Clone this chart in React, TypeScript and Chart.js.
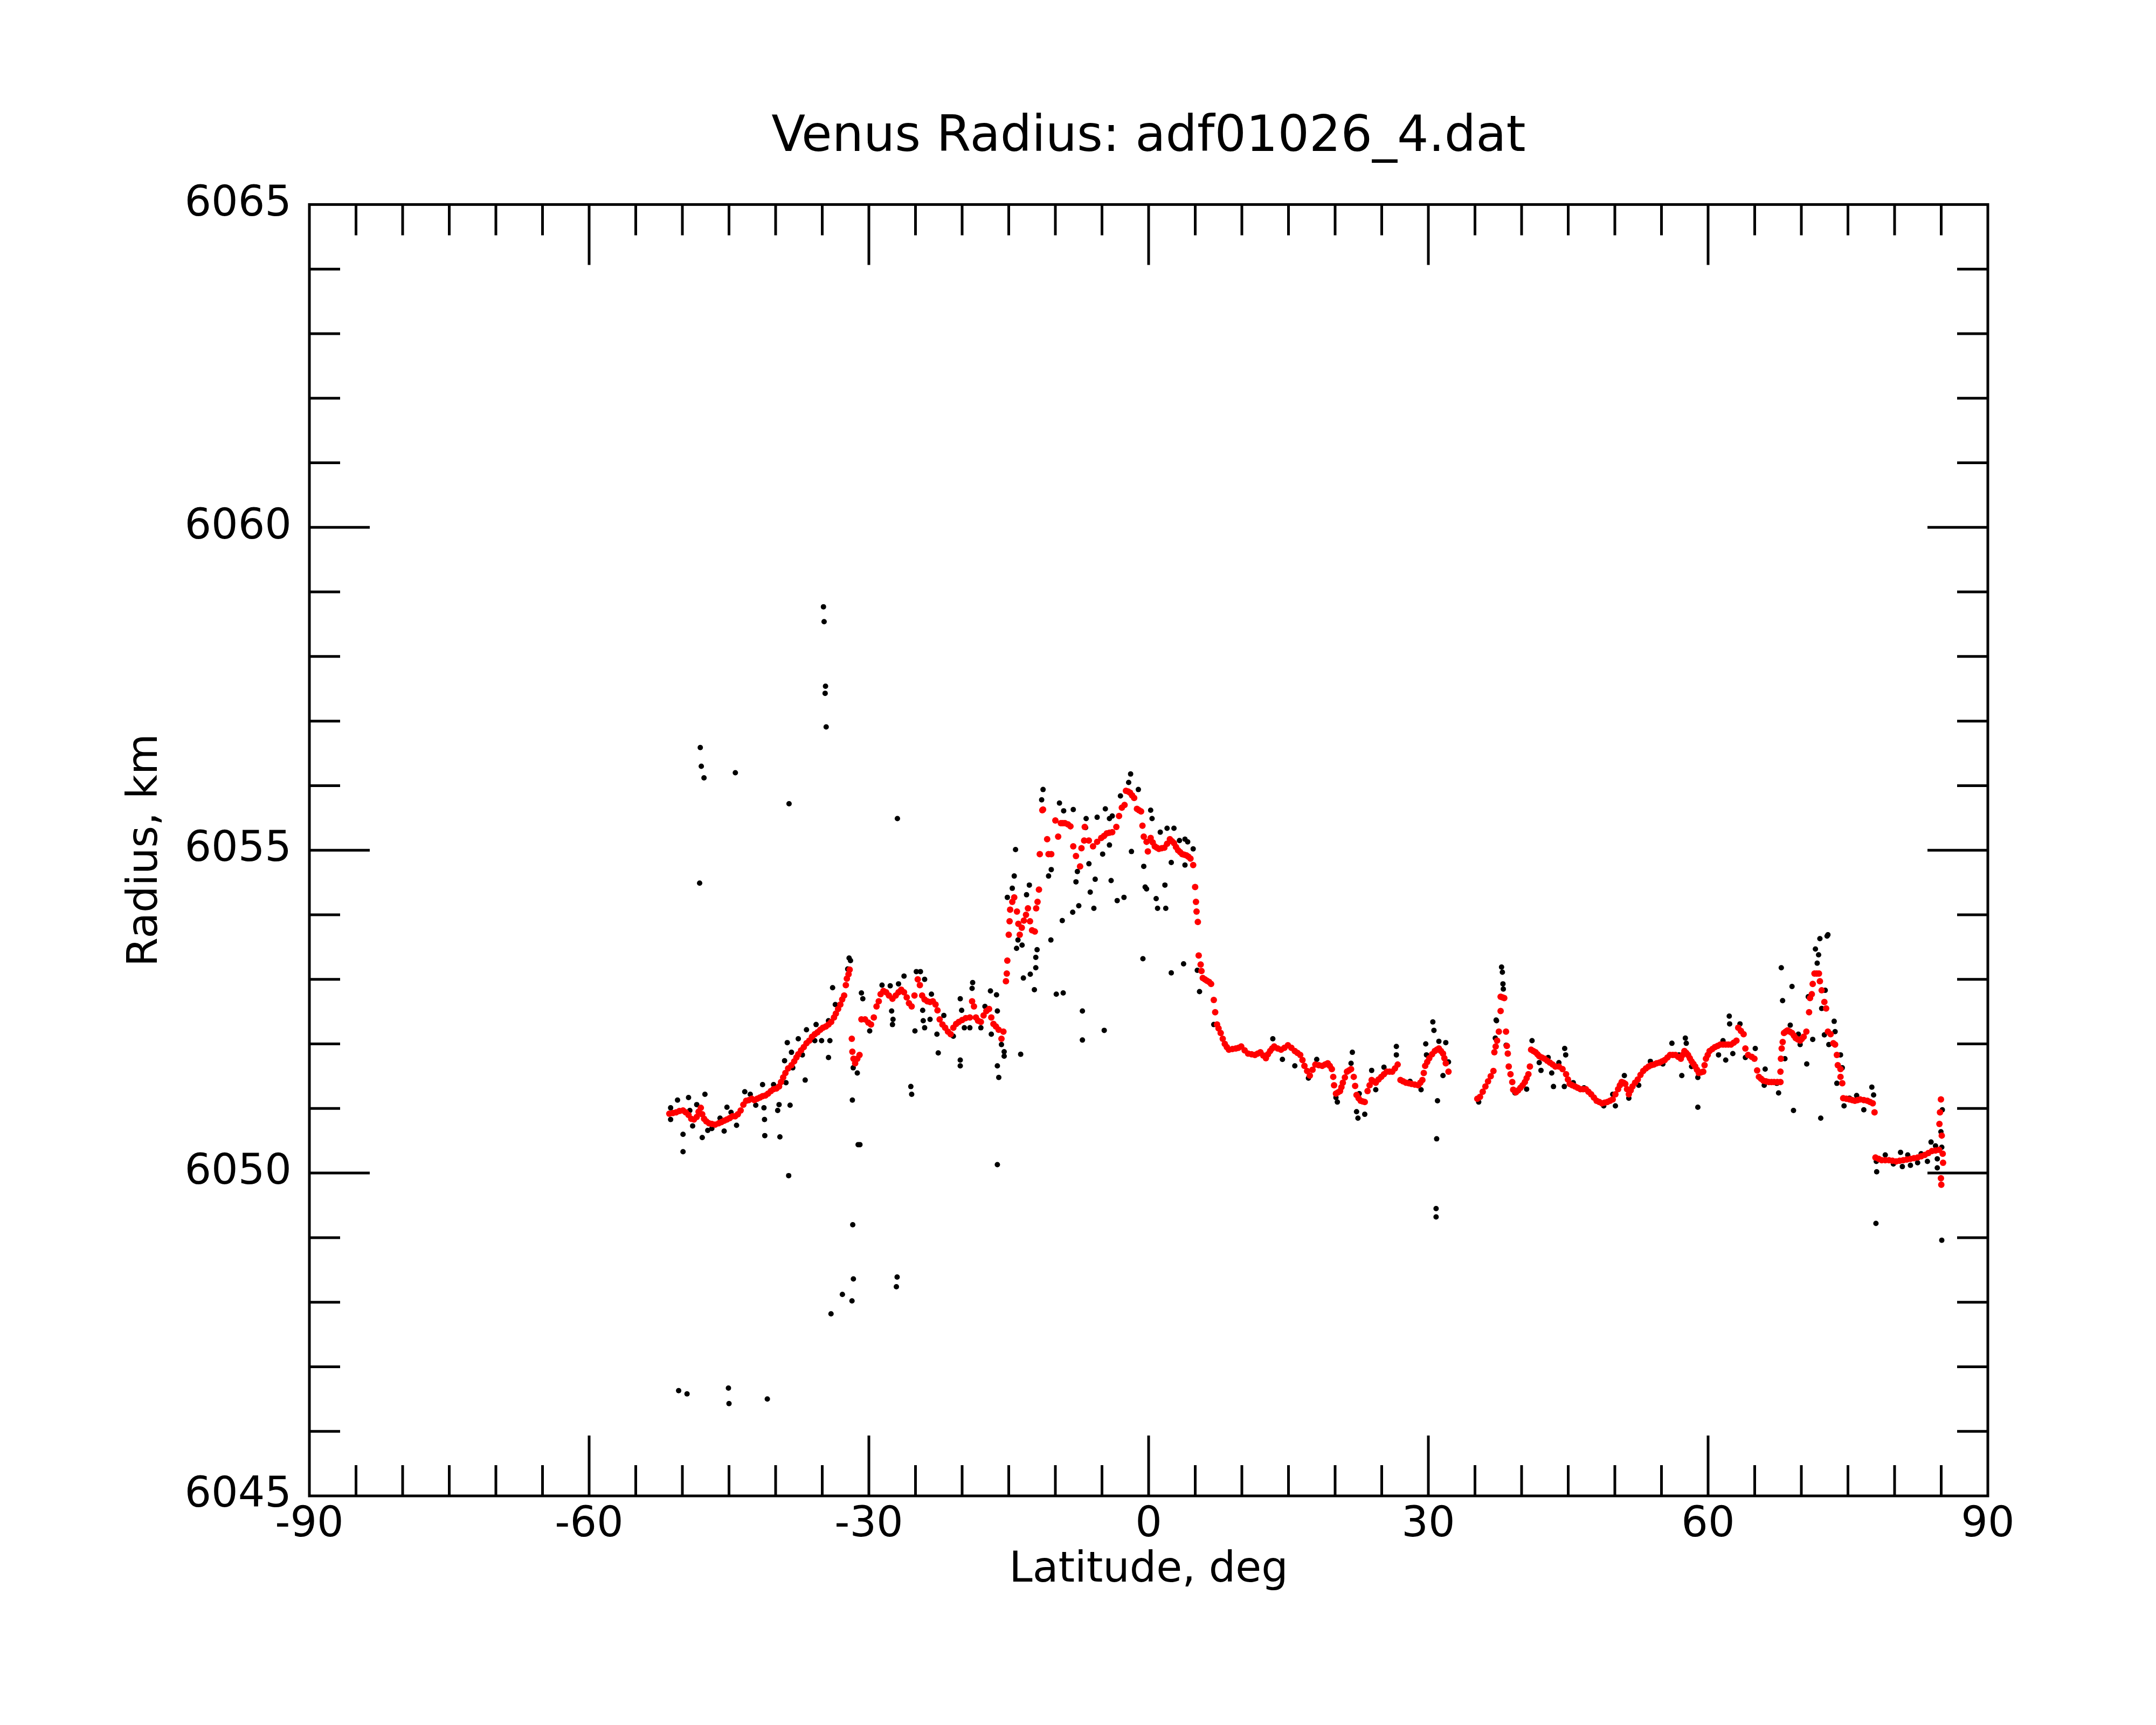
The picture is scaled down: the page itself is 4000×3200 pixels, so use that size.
import React, { useEffect, useRef } from "react";
import { Chart, registerables } from "chart.js";

Chart.register(...registerables);

// axis ranges and tick spacing
const LAT_MIN = -90;
const LAT_MAX = 90;
const LAT_MAJOR = 30;
const LAT_MINOR = 5;
const KM_MIN = 6045;
const KM_MAX = 6065;
const KM_MAJOR = 5;
const KM_MINOR = 1;

// smoothed radius (red), [latitude deg, radius km]
const fitSouth: [number, number][] = [
  [-51.4, 6050.92], [-51.02, 6050.93], [-50.67, 6050.94], [-50.32, 6050.96], [-49.93, 6050.97],
  [-49.64, 6050.94], [-49.34, 6050.9], [-49.05, 6050.84], [-48.76, 6050.83], [-48.46, 6050.87],
  [-48.26, 6050.95], [-48.02, 6051.01], [-47.87, 6050.91], [-47.67, 6050.84], [-47.43, 6050.8],
  [-47.14, 6050.77], [-46.84, 6050.76], [-46.49, 6050.75], [-46.11, 6050.77], [-45.81, 6050.79],
  [-45.52, 6050.81], [-45.22, 6050.83], [-44.93, 6050.85], [-44.63, 6050.88], [-44.34, 6050.88],
  [-44.05, 6050.91], [-43.75, 6050.97], [-43.46, 6051.06], [-43.16, 6051.12], [-42.87, 6051.13],
  [-42.57, 6051.15], [-42.28, 6051.13], [-41.98, 6051.15], [-41.69, 6051.17], [-41.4, 6051.19],
  [-41.1, 6051.2], [-40.81, 6051.23], [-40.51, 6051.27], [-40.22, 6051.3], [-39.92, 6051.31],
  [-39.63, 6051.34], [-39.42, 6051.41], [-39.19, 6051.48], [-38.95, 6051.55], [-38.66, 6051.62],
  [-38.3, 6051.67], [-38.01, 6051.73], [-37.77, 6051.79], [-37.57, 6051.84], [-37.27, 6051.9],
  [-36.98, 6051.95], [-36.69, 6052.01], [-36.39, 6052.05], [-36.1, 6052.11], [-35.8, 6052.15],
  [-35.51, 6052.18], [-35.21, 6052.22], [-34.92, 6052.25], [-34.62, 6052.27], [-34.33, 6052.3],
  [-34.04, 6052.34], [-33.74, 6052.41], [-33.54, 6052.47], [-33.3, 6052.54], [-33.06, 6052.61],
  [-32.86, 6052.69], [-32.65, 6052.75], [-32.47, 6052.91], [-32.36, 6053.01], [-32.18, 6053.08],
  [-32.06, 6053.15], [-31.83, 6052.08], [-31.77, 6051.88], [-31.65, 6051.77], [-31.47, 6051.7],
  [-31.24, 6051.77], [-31.0, 6051.83], [-30.8, 6052.38], [-30.41, 6052.38], [-30.06, 6052.33],
  [-29.77, 6052.3], [-29.47, 6052.41], [-29.18, 6052.58], [-28.94, 6052.66], [-28.74, 6052.77],
  [-28.44, 6052.82], [-28.15, 6052.8], [-27.85, 6052.75], [-27.47, 6052.7], [-27.12, 6052.75],
  [-26.82, 6052.8], [-26.53, 6052.84], [-26.23, 6052.8], [-25.94, 6052.72], [-25.7, 6052.63],
  [-25.41, 6052.58], [-25.11, 6052.75], [-24.76, 6053.0], [-24.53, 6052.91], [-24.29, 6052.75],
  [-24.03, 6052.69], [-23.73, 6052.66], [-23.44, 6052.65], [-23.14, 6052.66], [-22.85, 6052.61],
  [-22.64, 6052.52], [-22.41, 6052.38], [-22.11, 6052.3], [-21.82, 6052.25], [-21.52, 6052.19],
  [-21.23, 6052.15], [-20.94, 6052.25], [-20.64, 6052.31], [-20.35, 6052.34], [-20.0, 6052.37],
  [-19.61, 6052.4], [-19.17, 6052.41], [-18.93, 6052.66], [-18.73, 6052.58], [-18.52, 6052.41],
  [-18.29, 6052.36], [-17.99, 6052.34], [-17.7, 6052.44], [-17.4, 6052.51], [-17.11, 6052.54],
  [-16.87, 6052.41], [-16.64, 6052.31], [-16.37, 6052.27], [-16.08, 6052.22], [-15.78, 6052.08],
  [-15.57, 6052.19],
];

const fitEquator: [number, number][] = [
  [-15.3, 6052.97], [-15.21, 6053.09], [-15.15, 6053.29], [-15.0, 6053.69], [-14.91, 6053.9],
  [-14.85, 6054.08], [-14.62, 6054.2], [-14.41, 6054.27], [-14.12, 6054.05], [-13.97, 6053.86],
  [-13.82, 6053.69], [-13.6, 6053.8], [-13.38, 6053.91], [-13.15, 6054.0], [-12.94, 6054.1],
  [-12.72, 6053.9], [-12.5, 6053.76], [-12.2, 6053.74], [-12.06, 6054.1], [-11.91, 6054.2],
  [-11.76, 6054.39], [-11.67, 6054.94], [-11.4, 6055.62], [-11.32, 6055.63], [-10.88, 6055.17],
  [-10.73, 6054.94], [-10.44, 6054.94], [-10.0, 6055.46], [-9.7, 6055.21], [-9.41, 6055.42],
  [-9.2, 6055.42], [-8.97, 6055.42], [-8.65, 6055.4], [-8.38, 6055.37], [-8.08, 6055.06],
  [-7.79, 6054.91], [-7.35, 6054.75], [-7.2, 6055.03], [-6.91, 6055.15], [-6.85, 6055.36],
  [-6.41, 6055.15], [-5.96, 6055.06], [-5.52, 6055.13], [-5.08, 6055.19], [-4.78, 6055.22],
  [-4.49, 6055.26], [-4.2, 6055.27], [-3.9, 6055.28], [-3.46, 6055.36], [-3.17, 6055.53],
  [-2.87, 6055.66], [-2.58, 6055.7], [-2.43, 6055.92], [-2.2, 6055.91], [-1.99, 6055.89],
  [-1.77, 6055.85], [-1.55, 6055.81], [-1.25, 6055.64], [-1.03, 6055.62], [-0.81, 6055.6],
  [-0.66, 6055.38], [-0.52, 6055.21], [-0.22, 6055.13], [-0.08, 6054.98], [0.22, 6055.19],
  [0.44, 6055.12], [0.66, 6055.06], [0.88, 6055.04], [1.1, 6055.02], [1.4, 6055.03],
  [1.69, 6055.04], [1.98, 6055.1], [2.28, 6055.17], [2.5, 6055.14], [2.72, 6055.11],
  [2.94, 6055.05], [3.16, 6055.0], [3.38, 6054.97], [3.6, 6054.94], [3.82, 6054.93],
  [4.05, 6054.92], [4.27, 6054.9], [4.49, 6054.87], [4.78, 6054.77], [4.99, 6054.43],
  [5.08, 6054.2], [5.14, 6054.05], [5.28, 6053.89], [5.37, 6053.37], [5.58, 6053.23],
  [5.67, 6053.13], [5.81, 6053.02], [6.03, 6053.0], [6.25, 6052.98], [6.48, 6052.96],
  [6.7, 6052.93], [6.99, 6052.68], [7.14, 6052.49], [7.34, 6052.3], [7.5, 6052.24],
  [7.73, 6052.17], [7.95, 6052.08], [8.17, 6052.0], [8.39, 6051.95], [8.61, 6051.91],
  [8.98, 6051.92], [9.35, 6051.93], [9.64, 6051.94], [9.93, 6051.96], [10.3, 6051.9],
  [10.67, 6051.85], [11.04, 6051.84], [11.4, 6051.83], [11.7, 6051.85], [11.99, 6051.87],
  [12.29, 6051.82], [12.58, 6051.78], [12.8, 6051.84], [13.03, 6051.89], [13.25, 6051.93],
  [13.47, 6051.96], [13.84, 6051.93], [14.2, 6051.91], [14.57, 6051.94], [14.94, 6051.98],
  [15.31, 6051.94], [15.68, 6051.89], [15.97, 6051.86], [16.26, 6051.83], [16.5, 6051.75],
  [16.71, 6051.66], [17.0, 6051.58], [17.29, 6051.51], [17.58, 6051.6], [17.88, 6051.68],
  [18.25, 6051.67], [18.62, 6051.66], [18.92, 6051.68], [19.21, 6051.7], [19.43, 6051.66],
  [19.65, 6051.61], [19.8, 6051.49], [19.89, 6051.36], [20.09, 6051.23], [20.31, 6051.25],
  [20.53, 6051.27], [20.68, 6051.33], [20.83, 6051.4], [21.05, 6051.48], [21.27, 6051.57],
  [21.49, 6051.59], [21.71, 6051.61], [22.0, 6051.49], [22.15, 6051.35], [22.3, 6051.21],
  [22.52, 6051.16], [22.74, 6051.12], [22.96, 6051.11], [23.18, 6051.1], [23.48, 6051.27],
  [23.7, 6051.36], [23.92, 6051.44], [24.14, 6051.42], [24.36, 6051.4], [24.66, 6051.45],
  [24.95, 6051.49], [25.24, 6051.53], [25.54, 6051.57], [25.84, 6051.57], [26.13, 6051.57],
  [26.42, 6051.62], [26.71, 6051.68], [27.01, 6051.44], [27.3, 6051.42], [27.6, 6051.4],
  [27.9, 6051.39], [28.19, 6051.38], [28.55, 6051.37], [28.92, 6051.36], [29.14, 6051.4],
  [29.36, 6051.44], [29.51, 6051.55], [29.66, 6051.66], [29.88, 6051.72], [30.1, 6051.78],
  [30.4, 6051.84], [30.69, 6051.89], [30.91, 6051.91], [31.13, 6051.93], [31.35, 6051.89],
  [31.57, 6051.85], [31.72, 6051.78], [31.87, 6051.7], [32.16, 6051.57],
];

const fitNorth: [number, number][] = [
  [35.25, 6051.15], [35.54, 6051.18], [35.83, 6051.26], [36.12, 6051.34], [36.4, 6051.42],
  [36.69, 6051.5], [36.98, 6051.58], [37.08, 6051.87], [37.22, 6051.96], [37.37, 6052.05],
  [37.56, 6052.19], [37.75, 6052.51], [37.75, 6052.73], [37.95, 6052.72], [38.14, 6052.71],
  [38.33, 6052.19], [38.42, 6051.97], [38.52, 6051.85], [38.62, 6051.65], [38.81, 6051.53],
  [39.0, 6051.41], [39.1, 6051.29], [39.39, 6051.25], [39.63, 6051.28], [39.87, 6051.32],
  [40.11, 6051.36], [40.35, 6051.41], [40.54, 6051.47], [40.73, 6051.53], [40.89, 6051.65],
  [41.02, 6051.91], [41.26, 6051.89], [41.5, 6051.87], [41.7, 6051.84], [41.89, 6051.81],
  [42.17, 6051.79], [42.46, 6051.77], [42.75, 6051.74], [43.04, 6051.71], [43.33, 6051.68],
  [43.62, 6051.65], [44.0, 6051.65], [44.39, 6051.61], [44.77, 6051.53], [44.97, 6051.45],
  [45.16, 6051.38], [45.44, 6051.36], [45.73, 6051.34], [46.02, 6051.32], [46.31, 6051.3],
  [46.6, 6051.3], [46.89, 6051.3], [47.17, 6051.26], [47.46, 6051.22], [47.75, 6051.17],
  [48.04, 6051.12], [48.33, 6051.1], [48.62, 6051.08], [48.9, 6051.09], [49.19, 6051.1],
  [49.48, 6051.12], [49.77, 6051.14], [50.06, 6051.22], [50.35, 6051.3], [50.54, 6051.36],
  [50.73, 6051.41], [50.93, 6051.4], [51.12, 6051.38], [51.31, 6051.3], [51.5, 6051.22],
  [51.7, 6051.28], [51.89, 6051.34], [52.17, 6051.4], [52.46, 6051.45], [52.75, 6051.52],
  [53.04, 6051.58], [53.33, 6051.62], [53.62, 6051.65], [53.9, 6051.67], [54.19, 6051.68],
  [54.48, 6051.7], [54.77, 6051.71], [55.06, 6051.73], [55.35, 6051.75], [55.64, 6051.79],
  [55.92, 6051.83], [56.21, 6051.83], [56.5, 6051.83], [56.79, 6051.8], [57.08, 6051.77],
  [57.27, 6051.83], [57.46, 6051.89], [57.66, 6051.86], [57.85, 6051.83], [58.04, 6051.78],
  [58.23, 6051.73], [58.43, 6051.69], [58.62, 6051.65], [58.81, 6051.6], [59.0, 6051.55],
  [59.24, 6051.56], [59.48, 6051.57], [59.62, 6051.67], [59.77, 6051.77], [59.96, 6051.83],
  [60.16, 6051.89], [60.45, 6051.92], [60.73, 6051.95], [61.02, 6051.97], [61.31, 6051.99],
  [61.6, 6051.99], [61.89, 6051.99], [62.17, 6051.99], [62.46, 6051.99], [62.75, 6052.02],
  [63.04, 6052.05], [63.23, 6052.25], [63.52, 6052.2], [63.81, 6052.15], [64.0, 6051.93],
  [64.29, 6051.83], [64.68, 6051.8], [64.97, 6051.77], [65.26, 6051.59], [65.45, 6051.49],
  [65.69, 6051.46], [65.93, 6051.43], [66.22, 6051.42], [66.51, 6051.41], [66.8, 6051.41],
  [67.08, 6051.41], [67.42, 6051.41], [67.76, 6051.41], [67.76, 6051.57], [67.81, 6051.77],
  [67.89, 6051.93], [68.0, 6052.03], [68.14, 6052.17], [68.33, 6052.19], [68.52, 6052.21],
  [68.76, 6052.19], [69.0, 6052.17], [69.2, 6052.13], [69.39, 6052.09], [69.63, 6052.07],
  [69.87, 6052.05], [70.06, 6052.08], [70.25, 6052.11], [70.54, 6052.19], [70.83, 6052.49],
  [70.93, 6052.71], [71.12, 6052.77], [71.22, 6052.93], [71.41, 6053.09], [71.65, 6053.09],
  [71.89, 6053.09], [71.99, 6052.97], [72.18, 6052.83], [72.47, 6052.65], [72.66, 6052.55],
  [72.85, 6052.19], [73.14, 6052.15], [73.43, 6052.01], [73.62, 6051.99], [73.81, 6051.83],
  [73.91, 6051.67], [74.2, 6051.61], [74.2, 6051.49], [74.39, 6051.39], [74.49, 6051.16],
  [74.83, 6051.15], [75.16, 6051.14], [75.45, 6051.13], [75.74, 6051.12], [76.03, 6051.13],
  [76.31, 6051.14], [76.7, 6051.13], [77.08, 6051.12], [77.37, 6051.1], [77.66, 6051.08],
  [77.85, 6050.94], [77.95, 6050.24], [78.29, 6050.22], [78.62, 6050.2], [79.0, 6050.2],
  [79.39, 6050.2], [79.77, 6050.19], [80.16, 6050.18], [80.54, 6050.19], [80.93, 6050.2],
  [81.31, 6050.21], [81.7, 6050.22], [82.08, 6050.23], [82.47, 6050.24], [82.85, 6050.26],
  [83.24, 6050.28], [83.62, 6050.31], [84.0, 6050.34], [84.39, 6050.35], [84.77, 6050.36],
  [85.16, 6050.3], [85.2, 6050.16], [84.97, 6049.92], [85.01, 6049.82], [84.97, 6051.14],
  [84.87, 6050.94], [84.81, 6050.76], [85.06, 6050.58],
];

// individual radius measurements (black), [latitude deg, radius km]
const obsSouth: [number, number][] = [
  [-51.26, 6051.01], [-51.26, 6050.83], [-50.52, 6051.13], [-49.93, 6050.6], [-49.93, 6050.33],
  [-49.34, 6051.17], [-49.2, 6050.97], [-48.9, 6050.73], [-48.46, 6051.06], [-47.87, 6050.55],
  [-47.58, 6051.22], [-47.28, 6050.66], [-46.84, 6050.69], [-45.96, 6050.85], [-45.52, 6050.65],
  [-45.22, 6051.02], [-44.78, 6050.94], [-44.19, 6050.74], [-43.31, 6051.26], [-42.72, 6051.22],
  [-42.13, 6051.05], [-41.4, 6051.37], [-41.25, 6051.01], [-41.19, 6050.83], [-41.16, 6050.58],
  [-40.22, 6051.37], [-39.78, 6050.97], [-39.54, 6050.56], [-39.63, 6051.06], [-39.04, 6051.74],
  [-38.89, 6051.4], [-38.75, 6052.02], [-38.6, 6049.96], [-38.45, 6051.05], [-38.3, 6051.87],
  [-38.16, 6051.63], [-37.57, 6052.08], [-37.13, 6051.83], [-36.83, 6051.44], [-36.69, 6052.22],
  [-35.8, 6052.05], [-35.66, 6052.3], [-35.07, 6052.05], [-34.33, 6052.36], [-34.33, 6051.79],
  [-34.18, 6052.05], [-33.89, 6052.87], [-33.6, 6052.61], [-32.12, 6053.33], [-31.97, 6053.29],
  [-32.27, 6053.16], [-31.68, 6051.63], [-31.24, 6051.55], [-31.77, 6051.13], [-31.15, 6050.44],
  [-30.8, 6052.79], [-30.65, 6052.7], [-29.91, 6052.2], [-28.59, 6052.91], [-27.71, 6052.9],
  [-27.56, 6052.51], [-27.41, 6052.38], [-27.47, 6052.3], [-26.82, 6052.93], [-26.23, 6053.05],
  [-25.5, 6051.34], [-25.41, 6051.22], [-25.06, 6052.2], [-24.91, 6053.12], [-24.47, 6053.12],
  [-24.23, 6052.52], [-24.17, 6052.36], [-24.02, 6052.25], [-24.02, 6053.0], [-23.44, 6052.38],
  [-23.29, 6052.77], [-22.7, 6052.15], [-22.56, 6051.86], [-21.96, 6052.44], [-20.94, 6052.12],
  [-20.2, 6052.7], [-20.2, 6051.75], [-20.2, 6051.66], [-20.05, 6052.52], [-19.76, 6052.25],
  [-19.17, 6052.25], [-18.87, 6052.95], [-18.93, 6052.86], [-17.99, 6052.25], [-17.55, 6052.58],
  [-16.96, 6052.82], [-16.87, 6052.15], [-16.31, 6052.76], [-16.22, 6052.51], [-16.22, 6051.66],
  [-16.07, 6051.48], [-16.22, 6050.13], [-15.49, 6051.88], [-15.49, 6051.81], [-15.78, 6051.99],
];

const obsEquator: [number, number][] = [
  [-15.15, 6054.27], [-14.62, 6054.41], [-14.41, 6054.6], [-14.27, 6055.01], [-14.16, 6053.48],
  [-14.01, 6053.61], [-13.72, 6051.84], [-13.57, 6053.53], [-13.43, 6053.02], [-13.09, 6054.31],
  [-12.79, 6054.46], [-12.69, 6053.08], [-12.25, 6052.84], [-12.1, 6053.18], [-12.1, 6053.34],
  [-11.96, 6053.46], [-11.47, 6055.78], [-11.32, 6055.94], [-10.73, 6054.6], [-10.48, 6053.61],
  [-10.44, 6054.7], [-9.9, 6052.77], [-9.56, 6055.73], [-9.26, 6053.91], [-9.16, 6052.79],
  [-9.11, 6055.61], [-8.14, 6054.04], [-8.08, 6055.63], [-7.79, 6054.51], [-7.64, 6054.67],
  [-7.49, 6054.14], [-7.1, 6052.51], [-7.1, 6052.06], [-6.76, 6055.35], [-6.7, 6055.49],
  [-6.4, 6054.79], [-6.26, 6054.35], [-5.87, 6054.1], [-5.73, 6054.55], [-5.52, 6055.51],
  [-4.93, 6054.94], [-4.76, 6052.21], [-4.64, 6055.64], [-4.2, 6055.49], [-4.2, 6055.08],
  [-4.02, 6054.53], [-3.9, 6055.53], [-3.37, 6054.22], [-3.02, 6055.84], [-2.64, 6054.27],
  [-2.14, 6056.05], [-1.93, 6056.18], [-1.84, 6054.98], [-1.1, 6055.94], [-0.61, 6053.32],
  [-0.52, 6054.75], [-0.37, 6054.43], [-0.22, 6054.4], [0.22, 6055.62], [0.37, 6055.49],
  [0.81, 6054.25], [0.96, 6054.1], [1.25, 6055.28], [1.75, 6054.46], [1.84, 6054.1],
  [1.98, 6055.34], [2.43, 6053.1], [2.43, 6054.81], [2.72, 6055.34], [3.31, 6055.15],
  [3.75, 6053.24], [3.9, 6054.77], [3.9, 6055.17], [4.19, 6055.13], [4.78, 6055.02],
  [5.22, 6053.14], [5.46, 6052.81], [6.99, 6052.3], [7.73, 6052.17], [13.32, 6052.08],
  [14.35, 6051.76], [15.68, 6051.66], [17.14, 6051.47], [18.03, 6051.76], [20.09, 6051.17],
  [20.24, 6051.1], [21.71, 6051.7], [21.85, 6051.87], [22.3, 6050.95], [22.45, 6050.85],
  [22.59, 6051.23], [23.18, 6050.91], [23.92, 6051.59], [24.36, 6051.29], [25.24, 6051.64],
  [26.57, 6051.96], [26.57, 6051.83], [28.04, 6051.42], [29.22, 6051.29], [29.72, 6052.0],
  [29.8, 6051.83], [30.48, 6052.34], [30.6, 6052.21], [30.83, 6049.45], [30.83, 6049.32],
  [30.89, 6050.53], [30.98, 6051.12], [31.13, 6052.04], [31.57, 6051.51], [31.87, 6052.02],
  [32.16, 6051.72],
];

const obsNorth: [number, number][] = [
  [35.4, 6051.1], [37.18, 6052.09], [37.27, 6052.37], [37.31, 6052.36], [37.85, 6053.19],
  [37.94, 6053.11], [38.0, 6052.93], [38.04, 6052.85], [38.34, 6051.98], [39.29, 6051.24],
  [40.54, 6051.3], [41.12, 6052.05], [41.89, 6051.71], [42.08, 6051.59], [42.85, 6051.79],
  [43.23, 6051.55], [43.42, 6051.34], [44.0, 6051.71], [44.58, 6051.34], [44.62, 6051.93],
  [44.73, 6051.83], [45.54, 6051.4], [46.69, 6051.32], [48.81, 6051.04], [49.77, 6051.22],
  [50.06, 6051.04], [51.02, 6051.51], [51.5, 6051.16], [52.56, 6051.36], [53.81, 6051.73],
  [55.15, 6051.69], [56.12, 6052.01], [56.88, 6051.83], [57.18, 6051.51], [57.56, 6052.09],
  [57.66, 6052.01], [58.23, 6051.65], [58.9, 6051.02], [58.9, 6051.48], [61.12, 6051.83],
  [61.6, 6052.05], [61.89, 6051.75], [62.27, 6052.43], [62.31, 6052.31], [62.65, 6051.85],
  [63.42, 6052.31], [64.0, 6051.79], [65.06, 6051.93], [66.02, 6051.36], [66.12, 6051.61],
  [67.37, 6051.39], [67.56, 6051.24], [67.85, 6053.18], [67.99, 6052.67], [68.24, 6051.77],
  [68.81, 6052.29], [69.0, 6052.89], [69.16, 6050.97], [69.68, 6052.15], [69.87, 6051.99],
  [70.58, 6051.69], [70.74, 6052.73], [71.22, 6052.07], [71.51, 6053.47], [71.7, 6053.25],
  [71.85, 6053.38], [71.99, 6053.63], [72.08, 6050.85], [72.18, 6052.55], [72.47, 6052.14],
  [72.56, 6052.83], [72.76, 6053.67], [72.85, 6053.69], [72.95, 6051.99], [73.52, 6052.35],
  [73.62, 6052.19], [73.81, 6051.39], [74.2, 6051.83], [74.39, 6051.63], [74.58, 6051.04],
  [75.16, 6051.16], [75.93, 6051.2], [76.7, 6050.98], [77.56, 6051.33], [77.75, 6051.21],
  [78.0, 6049.22], [78.04, 6050.18], [78.08, 6050.02], [79.0, 6050.28], [79.87, 6050.14],
  [80.64, 6050.32], [80.83, 6050.1], [81.41, 6050.28], [81.7, 6050.12], [82.47, 6050.16],
  [82.85, 6050.3], [83.52, 6050.18], [83.91, 6050.48], [84.39, 6050.42], [84.58, 6050.22],
  [84.58, 6050.08], [84.97, 6050.64], [85.06, 6050.4], [85.12, 6050.98], [85.06, 6048.96],
];

const obsOutliers: [number, number][] = [
  [-34.87, 6058.77], [-34.8, 6058.54], [-34.65, 6057.54], [-34.69, 6057.43], [-34.58, 6056.91],
  [-48.08, 6056.59], [-47.97, 6056.3], [-47.68, 6056.12], [-44.32, 6056.2], [-48.15, 6054.49],
  [-38.56, 6055.72], [-26.94, 6055.49], [-50.4, 6046.63], [-49.5, 6046.58], [-45.06, 6046.67],
  [-45.0, 6046.43], [-40.89, 6046.5], [-34.06, 6047.82], [-32.84, 6048.12], [-31.81, 6048.02],
  [-31.66, 6048.36], [-31.73, 6049.2], [-30.96, 6050.44], [-26.97, 6048.39], [-27.05, 6048.24],
];

const toXY = (pts: [number, number][]) => pts.map(([x, y]) => ({ x, y }));

// inward tick marks on all four sides plus the box
const framePlugin = {
  id: "frame",
  afterDatasetsDraw(chart: any) {
    const { ctx, chartArea: a, scales } = chart;
    const sx = scales.x;
    const sy = scales.y;
    ctx.save();
    ctx.strokeStyle = "#000";
    ctx.lineWidth = 5;
    ctx.beginPath();
    for (let v = LAT_MIN + LAT_MINOR; v < LAT_MAX; v += LAT_MINOR) {
      const px = sx.getPixelForValue(v);
      const len = v % LAT_MAJOR === 0 ? 112 : 57;
      ctx.moveTo(px, a.bottom);
      ctx.lineTo(px, a.bottom - len);
      ctx.moveTo(px, a.top);
      ctx.lineTo(px, a.top + len);
    }
    for (let v = KM_MIN + KM_MINOR; v < KM_MAX; v += KM_MINOR) {
      const py = sy.getPixelForValue(v);
      const len = v % KM_MAJOR === 0 ? 112 : 57;
      ctx.moveTo(a.left, py);
      ctx.lineTo(a.left + len, py);
      ctx.moveTo(a.right, py);
      ctx.lineTo(a.right - len, py);
    }
    ctx.stroke();
    ctx.strokeRect(a.left, a.top, a.right - a.left, a.bottom - a.top);
    ctx.restore();
  },
};

export default function App() {
  const canvasRef = useRef<HTMLCanvasElement>(null);

  useEffect(() => {
    Chart.defaults.font.family = "'DejaVu Sans', sans-serif";
    Chart.defaults.color = "#000";

    const chart = new Chart(canvasRef.current!, {
      type: "scatter",
      data: {
        datasets: [
          {
            label: "smoothed",
            data: toXY([...fitSouth, ...fitEquator, ...fitNorth]),
            backgroundColor: "#ff0000",
            borderWidth: 0,
            pointRadius: 6,
            order: 0,
          },
          {
            label: "measured",
            data: toXY([...obsSouth, ...obsEquator, ...obsNorth, ...obsOutliers]),
            backgroundColor: "#000000",
            borderWidth: 0,
            pointRadius: 5,
            order: 1,
          },
        ],
      },
      options: {
        animation: false,
        responsive: false,
        devicePixelRatio: 1,
        layout: { padding: { left: 0, right: 312, top: 0, bottom: 0 } },
        plugins: {
          legend: { display: false },
          tooltip: { enabled: false },
          title: {
            display: true,
            fullSize: false,
            text: "Venus Radius: adf01026_4.dat",
            color: "#000",
            font: { size: 92, weight: "normal" },
            padding: { top: 201, bottom: 68 },
          },
        },
        scales: {
          x: {
            type: "linear",
            min: LAT_MIN,
            max: LAT_MAX,
            grid: { display: false, drawTicks: false },
            border: { display: false },
            ticks: {
              stepSize: LAT_MAJOR,
              autoSkip: false,
              maxRotation: 0,
              padding: 8,
              font: { size: 78 },
              color: "#000",
              callback: (v: any) => String(v),
            },
            title: {
              display: true,
              text: "Latitude, deg",
              color: "#000",
              font: { size: 78 },
              padding: { top: 0, bottom: 239 },
            },
            afterFit: (scale: any) => {
              scale.height = 425;
            },
          },
          y: {
            type: "linear",
            min: KM_MIN,
            max: KM_MAX,
            grid: { display: false, drawTicks: false },
            border: { display: false },
            ticks: {
              stepSize: KM_MAJOR,
              autoSkip: false,
              padding: 33,
              font: { size: 78 },
              color: "#000",
              callback: (v: any) => String(v),
            },
            title: {
              display: true,
              text: "Radius, km",
              color: "#000",
              font: { size: 78 },
              padding: { top: 224, bottom: 0 },
            },
            afterFit: (scale: any) => {
              scale.width = 574;
            },
          },
        },
      },
      plugins: [framePlugin],
    });

    return () => {
      chart.destroy();
    };
  }, []);

  return (
    <div style={{ position: "absolute", left: 0, top: 0, width: 4000, height: 3200, background: "#fff" }}>
      <canvas ref={canvasRef} width={4000} height={3200} />
    </div>
  );
}
